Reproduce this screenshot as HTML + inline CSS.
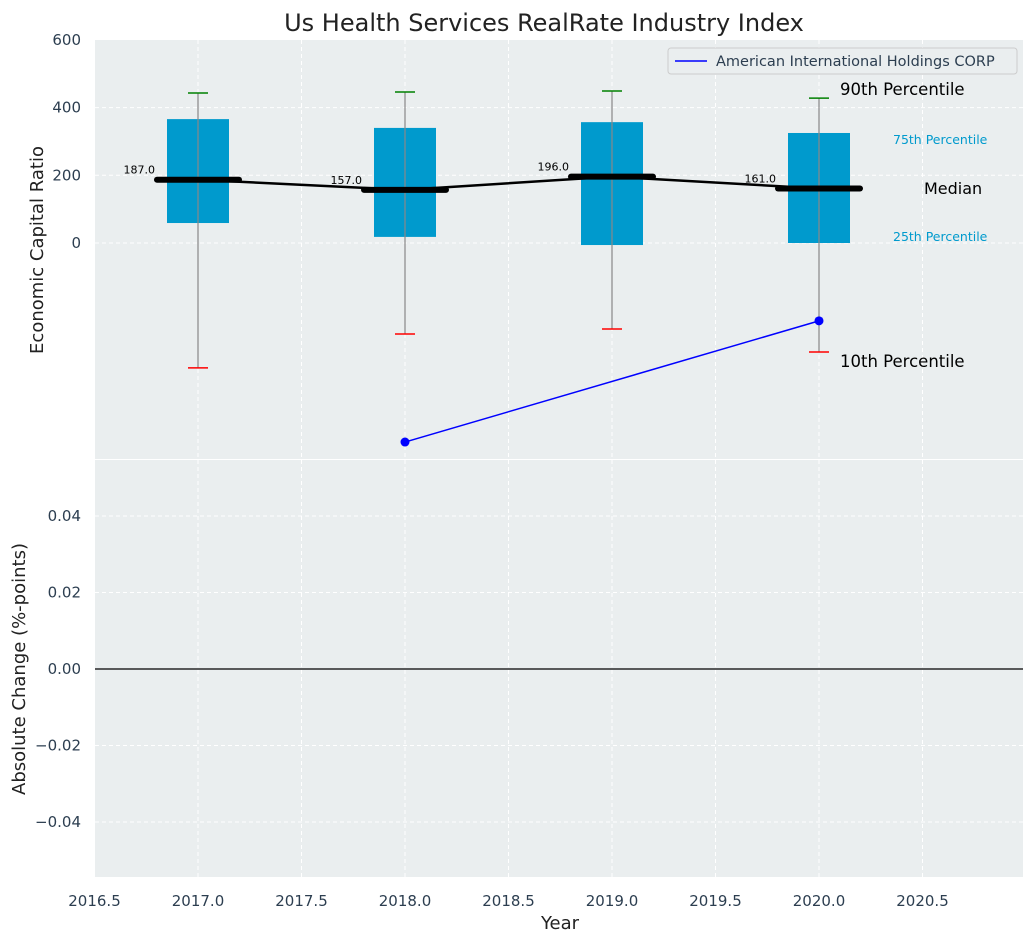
<!DOCTYPE html>
<html><head><meta charset="utf-8">
<style>
body{margin:0;background:#fff;font-family:"Liberation Sans","DejaVu Sans",sans-serif;}
svg text{font-family:"DejaVu Sans","Liberation Sans",sans-serif;}
</style></head>
<body>
<svg id="chart" width="1034" height="942" xmlns="http://www.w3.org/2000/svg"></svg>
<script>
const years=[2017,2018,2019,2020];
const p90=[443,446,449,428];
const p75=[366,340,357,325];
const medians=[187,157,196,161];
const p25=[59,18,-6,0];
const p10=[-369,-269,-254,-322];
const companyYears=[2018,2020];
const companyValues=[-588,-230];
const xTicks=[2016.5,2017,2017.5,2018,2018.5,2019,2019.5,2020,2020.5];
const yTopTicks=[0,200,400,600];
const yBotTicks=[-0.04,-0.02,0,0.02,0.04];

const svg=document.getElementById('chart');
const NS='http://www.w3.org/2000/svg';
const L=95,R=1023,T1=40,B1=459,T2=460,B2=877;
const x=v=>198+(v-2017)*207;
const y1=v=>243-v*0.3385;
const y2=v=>669-v*3825;
function el(t,a,txt){const e=document.createElementNS(NS,t);for(const k in a)e.setAttribute(k,a[k]);if(txt!==undefined)e.textContent=txt;svg.appendChild(e);return e;}

let e;
e=el('rect',{x:L,y:T1,width:R-L,height:B1-T1,fill:'#eaeeef'});


e=el('rect',{x:L,y:T2,width:R-L,height:B2-T2,fill:'#eaeeef'});



xTicks.forEach(t=>{
  if(t>2016.5){
    el('line',{x1:x(t),x2:x(t),y1:T1,y2:B1,stroke:'#fff','stroke-dasharray':'4,3'});
    el('line',{x1:x(t),x2:x(t),y1:T2,y2:B2,stroke:'#fff','stroke-dasharray':'4,3'});
  }
  e=el('text',{x:x(t),y:906,'text-anchor':'middle','font-size':15,fill:'#2c3e50'},t.toFixed(1));
  
  
});
yTopTicks.forEach(t=>{
  if(t<600) el('line',{x1:L,x2:R,y1:y1(t),y2:y1(t),stroke:'#fff','stroke-dasharray':'4,3'});
  e=el('text',{x:81,y:y1(t)+5,'text-anchor':'end','font-size':15,fill:'#2c3e50'},t);
  
  
});
yBotTicks.forEach(t=>{
  el('line',{x1:L,x2:R,y1:y2(t),y2:y2(t),stroke:'#fff','stroke-dasharray':'4,3'});
  e=el('text',{x:81,y:y2(t)+5,'text-anchor':'end','font-size':15,fill:'#2c3e50'},t<0?'\u2212'+Math.abs(t).toFixed(2):t.toFixed(2));
  
  
});
el('line',{x1:L,x2:R,y1:y2(0),y2:y2(0),stroke:'#000','stroke-width':1.2});

years.forEach((yr,i)=>{
  const cx=x(yr);
  e=el('rect',{x:cx-31,y:y1(p75[i]),width:62,height:y1(p25[i])-y1(p75[i]),fill:'#009acd'});
  
  
  el('line',{x1:cx,x2:cx,y1:y1(p90[i]),y2:y1(p10[i]),stroke:'#888','stroke-width':1.2});
  e=el('line',{x1:cx-10,x2:cx+10,y1:y1(p90[i]),y2:y1(p90[i]),stroke:'green','stroke-width':1.5});
  
  
  e=el('line',{x1:cx-10,x2:cx+10,y1:y1(p10[i]),y2:y1(p10[i]),stroke:'red','stroke-width':1.5});
  
  
  e=el('line',{x1:cx-41,x2:cx+41,y1:y1(medians[i]),y2:y1(medians[i]),stroke:'#000','stroke-width':6,'stroke-linecap':'round'});
  
  
  e=el('text',{x:cx-43,y:y1(medians[i])-6,'text-anchor':'end','font-size':11,fill:'#000'},medians[i].toFixed(1));
  
  
});
e=el('polyline',{points:years.map((yr,i)=>x(yr)+','+y1(medians[i])).join(' '),fill:'none',stroke:'#000','stroke-width':2.5});



e=el('polyline',{points:companyYears.map((yr,i)=>x(yr)+','+y1(companyValues[i])).join(' '),fill:'none',stroke:'blue','stroke-width':1.5});


companyYears.forEach((yr,i)=>{
  e=el('circle',{cx:x(yr),cy:y1(companyValues[i]),r:4.5,fill:'blue'});
  
  
});

const ann=[['90th Percentile',840,95,16.5,'#000'],['75th Percentile',893,144,12.5,'#009acd'],['Median',924,194,16,'#000'],['25th Percentile',893,241,12.5,'#009acd'],['10th Percentile',840,367,16.5,'#000']];
ann.forEach(a=>{e=el('text',{x:a[1],y:a[2],'font-size':a[3],fill:a[4]},a[0]);

});

e=el('rect',{x:668,y:48,width:349,height:26,rx:3,fill:'#eaeeef',stroke:'#ccc'});


el('line',{x1:675,x2:707,y1:61,y2:61,stroke:'blue','stroke-width':1.5});
e=el('text',{x:716,y:66,'font-size':14.5,fill:'#2c3e50'},'American International Holdings CORP');



e=el('text',{x:544,y:31,'text-anchor':'middle','font-size':24,fill:'#222'},'Us Health Services RealRate Industry Index');


e=el('text',{x:560,y:929,'text-anchor':'middle','font-size':18,fill:'#222'},'Year');


e=el('text',{x:0,y:0,'text-anchor':'middle','font-size':18,fill:'#222',transform:'translate(43,250) rotate(-90)'},'Economic Capital Ratio');


e=el('text',{x:0,y:0,'text-anchor':'middle','font-size':18,fill:'#222',transform:'translate(25,669) rotate(-90)'},'Absolute Change (%-points)');


</script>
</body></html>
